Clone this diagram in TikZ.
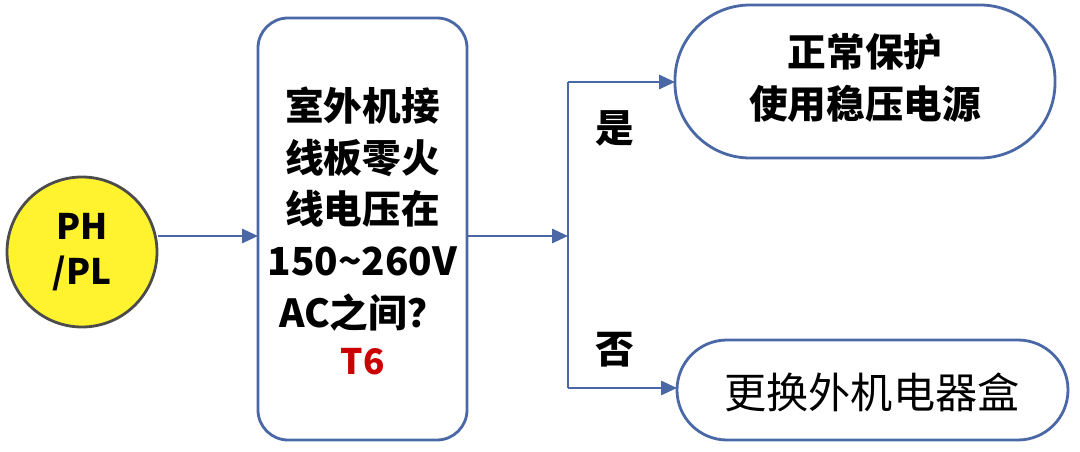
\documentclass[tikz,border=0pt]{standalone}
\usepackage{fontspec}
\setmainfont{Noto Sans CJK SC}
\usetikzlibrary{arrows.meta}
\definecolor{ln}{HTML}{4A67A6}
\definecolor{yl}{HTML}{FFF22E}
\tikzset{
 box/.style={draw=ln,line width=1.6pt,fill=white},
 arr/.style={draw=ln,line width=1.4pt,-{Triangle[length=9pt,width=8pt]}},
 lab/.style={font=\fontsize{22}{29.5}\selectfont\bfseries,align=center,inner sep=0pt}
}
\begin{document}
\begin{tikzpicture}[x=0.02cm,y=-0.02cm]
\useasboundingbox (0,0) rectangle (1080,452);
\node[circle,draw=black!70,line width=1.6pt,fill=yl,minimum size=150*0.02cm,lab,font=\fontsize{20}{26}\selectfont\bfseries] (c) at (82,252) {PH\\/PL};
\draw[box,rounded corners=30*0.02cm] (258,18) rectangle (467,440);
\node[lab] (m) at (362.5,209) {室外机接\\线板零火\\线电压在\\150\char`~260V\\AC之间？};
\node[lab,text=red!80!black,font=\fontsize{20}{26}\selectfont\bfseries] (t6) at (362.5,362) {T6};
\coordinate (mL) at (258,236);
\coordinate (mR) at (467,236);
\coordinate (j) at (568,236);
\coordinate (jt) at (568,82);
\coordinate (jb) at (568,388);
\draw[box,rounded corners=75*0.02cm] (675,5) rectangle (1055,158);
\node[lab] (t) at (865,78) {正常保护\\使用稳压电源};
\draw[box,rounded corners=50*0.02cm] (677,340) rectangle (1068,440);
\node[lab,font=\fontsize{24}{30}\selectfont] (b) at (872,392) {更换外机电器盒};
\coordinate (tL) at (675,82);
\coordinate (bL) at (677,388);
\draw[arr] (c.east |- mL) -- (mL);
\draw[arr] (mR) -- (j);
\draw[ln,line width=1.4pt] (jt) -- (jb);
\draw[arr] (jt) -- (tL);
\draw[arr] (jb) -- (bL);
\node[lab] (y) at (615,128) {是};
\node[lab] (n) at (615,350) {否};
\end{tikzpicture}
\end{document}
